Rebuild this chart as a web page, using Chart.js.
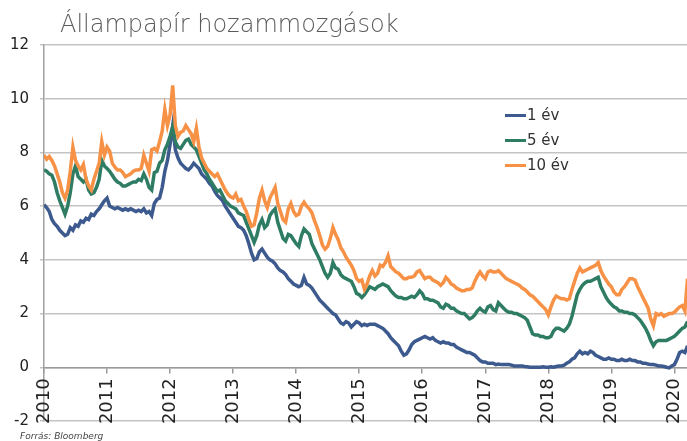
<!DOCTYPE html>
<html>
<head>
<meta charset="utf-8">
<title>Állampapír hozammozgások</title>
<script src="https://cdn.jsdelivr.net/npm/chart.js@4.4.1/dist/chart.umd.min.js"></script>
<style>
    body { margin: 0; background: #fff; }
    .chart-container { position: relative; width: 687px; height: 441px; }
    .title {
        position: absolute; left: 60px; top: 12px;
        font: 300 24px/24px "DejaVu Sans", sans-serif; color: #5a5a5c; white-space: nowrap;
    }
    .legend { position: absolute; left: 505px; top: 103px; font: 15px/25px "DejaVu Sans", sans-serif; color: #333; }
    .legend div { display: flex; align-items: center; height: 25px; }
    .legend span.swatch { display: inline-block; width: 21px; height: 3px; margin-right: 1px; }
    .source {
        position: absolute; left: 20px; top: 430px;
        font: italic 9px/12px "DejaVu Sans", sans-serif; color: #444;
    }
</style>
</head>
<body>
<div class="chart-container">
    <canvas id="yieldChart"></canvas>
    <div class="title">Állampapír hozammozgások</div>
    <div class="legend" id="legend"></div>
    <div class="source">Forrás: Bloomberg</div>
</div>
<script>
// year ticks on the x axis, data is sampled twice a month from Jan 2010
const years = [2010, 2011, 2012, 2013, 2014, 2015, 2016, 2017, 2018, 2019, 2020];
const perYear = 24;
const seriesNames = ['1 év', '5 év', '10 év'];
const yTicks = [-2, 0, 2, 4, 6, 8, 10, 12];

const yield1y = [
    6.05,5.95,5.8,5.5,5.35,5.25,5.1,5.0,4.9,4.95,5.2,5.1,5.3,5.25,5.45,5.4,5.55,5.5,5.7,5.65,5.8,5.9,6.05,6.2,
    6.3,6.0,5.95,5.9,5.95,5.9,5.85,5.9,5.85,5.9,5.85,5.8,5.85,5.8,5.9,5.75,5.8,5.65,6.1,6.25,6.3,6.7,7.3,7.7,
    8.3,9.0,8.1,7.8,7.6,7.5,7.4,7.35,7.45,7.6,7.5,7.4,7.2,7.1,7.0,6.85,6.75,6.55,6.4,6.3,6.2,6.0,5.85,5.7,
    5.55,5.4,5.25,5.2,5.1,4.9,4.6,4.25,4.0,4.05,4.3,4.4,4.25,4.1,4.0,3.95,3.85,3.7,3.6,3.55,3.45,3.3,3.2,3.1,
    3.05,3.0,3.05,3.35,3.1,3.05,2.95,2.8,2.65,2.5,2.4,2.3,2.2,2.1,2.0,1.95,1.8,1.65,1.6,1.7,1.65,1.5,1.6,1.7,
    1.65,1.55,1.6,1.55,1.6,1.6,1.6,1.55,1.5,1.45,1.35,1.25,1.1,1.0,0.9,0.8,0.6,0.45,0.5,0.65,0.85,0.95,1.0,1.05,
    1.1,1.15,1.1,1.05,1.1,1.0,0.95,0.9,0.95,0.9,0.9,0.85,0.85,0.75,0.7,0.65,0.6,0.55,0.55,0.5,0.45,0.35,0.25,0.2,
    0.2,0.15,0.15,0.15,0.1,0.12,0.1,0.1,0.1,0.1,0.08,0.05,0.05,0.05,0.05,0.03,0.02,0,0,0,0,0,0.02,0,
    0,0.02,0,0.03,0.05,0.05,0.08,0.15,0.2,0.3,0.35,0.5,0.6,0.5,0.55,0.5,0.6,0.55,0.45,0.4,0.35,0.3,0.3,0.35,
    0.3,0.3,0.25,0.25,0.3,0.25,0.25,0.3,0.25,0.25,0.2,0.2,0.15,0.15,0.12,0.1,0.1,0.08,0.05,0.05,0.03,0,-0.02,0.05,
    0.1,0.3,0.55,0.6,0.55,0.8
];

const yield5y = [
    7.35,7.3,7.2,7.15,6.9,6.5,6.2,5.95,5.7,6.0,6.5,7.2,7.5,7.1,7.0,6.9,7.0,6.6,6.45,6.5,6.7,7.0,7.7,7.5,
    7.4,7.3,7.15,7.0,6.9,6.85,6.75,6.75,6.8,6.85,6.9,6.9,7.0,6.95,7.2,7.0,6.7,6.6,7.25,7.3,7.6,7.7,8.1,8.3,
    8.6,8.95,8.4,8.2,8.15,8.3,8.45,8.5,8.3,8.2,8.1,7.85,7.6,7.35,7.2,7.0,6.85,6.7,6.55,6.6,6.4,6.2,6.1,6.0,
    5.95,5.9,5.75,5.7,5.65,5.4,5.15,4.9,4.65,4.9,5.3,5.5,5.2,5.3,5.65,5.8,5.9,5.4,5.1,4.8,4.7,4.95,4.9,4.75,
    4.6,4.5,4.9,5.15,5.05,4.95,4.6,4.4,4.2,4.0,3.75,3.5,3.35,3.5,3.9,3.7,3.65,3.45,3.35,3.3,3.25,3.2,3.0,2.75,
    2.7,2.6,2.7,2.85,3.0,2.95,2.9,3.0,3.05,3.1,3.05,3.0,2.85,2.75,2.65,2.6,2.6,2.55,2.55,2.6,2.65,2.6,2.7,2.85,
    2.75,2.55,2.55,2.5,2.5,2.45,2.4,2.25,2.2,2.35,2.3,2.2,2.2,2.1,2.05,2.0,2.0,1.9,1.8,1.85,1.95,2.1,2.2,2.1,
    2.05,2.25,2.3,2.15,2.1,2.4,2.3,2.2,2.1,2.05,2.05,2.0,2.0,1.95,1.9,1.85,1.75,1.5,1.25,1.2,1.2,1.15,1.15,1.1,
    1.1,1.15,1.35,1.45,1.45,1.4,1.35,1.45,1.6,1.9,2.3,2.7,2.9,3.05,3.15,3.2,3.2,3.25,3.3,3.35,3.0,2.8,2.6,2.45,
    2.35,2.25,2.2,2.1,2.1,2.05,2.05,2.0,2.0,1.95,1.85,1.75,1.6,1.45,1.25,1.0,0.8,0.95,1.0,1.0,1.0,1.0,1.05,1.1,
    1.15,1.25,1.35,1.45,1.5,1.7
];

const yield10y = [
    7.9,7.75,7.85,7.7,7.5,7.2,6.9,6.5,6.3,6.6,7.3,8.2,7.7,7.5,7.35,7.55,7.0,6.75,6.6,7.0,7.3,7.6,8.4,7.9,
    8.2,8.05,7.6,7.45,7.35,7.35,7.25,7.1,7.15,7.2,7.3,7.35,7.35,7.4,7.9,7.6,7.3,8.1,8.15,8.05,8.4,8.8,9.6,9.0,
    9.4,10.5,9.0,8.6,8.75,8.8,9.0,8.85,8.7,8.4,8.9,8.2,7.8,7.6,7.4,7.3,7.2,7.1,7.2,7.0,6.8,6.6,6.45,6.35,
    6.3,6.45,6.2,6.25,6.0,5.8,5.5,5.25,5.3,5.75,6.3,6.6,6.2,5.95,6.3,6.5,6.7,6.1,5.8,5.5,5.4,5.9,6.1,5.8,
    5.65,5.7,6.0,6.15,6.0,5.9,5.75,5.45,5.2,4.9,4.55,4.4,4.5,4.8,5.2,4.95,4.75,4.45,4.3,4.1,3.95,3.8,3.6,3.3,
    3.2,3.25,2.9,3.1,3.4,3.6,3.4,3.5,3.8,3.75,3.9,4.15,3.75,3.65,3.55,3.5,3.4,3.3,3.3,3.35,3.35,3.4,3.55,3.6,
    3.45,3.3,3.35,3.35,3.25,3.2,3.15,3.05,3.15,3.35,3.25,3.1,3.05,2.95,2.9,2.85,2.85,2.9,2.9,2.95,3.2,3.4,3.55,3.4,
    3.3,3.55,3.6,3.55,3.55,3.6,3.5,3.4,3.3,3.25,3.2,3.15,3.1,3.05,2.95,2.9,2.8,2.7,2.65,2.55,2.45,2.35,2.25,2.15,
    1.95,2.25,2.5,2.65,2.6,2.55,2.55,2.5,2.55,2.9,3.2,3.5,3.7,3.55,3.6,3.65,3.7,3.75,3.8,3.9,3.6,3.4,3.25,3.1,
    3.0,2.8,2.7,2.7,2.9,3.0,3.15,3.3,3.3,3.25,3.0,2.8,2.6,2.4,2.2,1.8,1.55,2.0,1.95,2.0,1.9,1.95,2.0,2.0,
    2.05,2.15,2.25,2.3,2.1,3.3
];

const colors = ['#3d5a8f', '#2e7c63', '#f79145'];

function toPoints(values) {
    return values.map(function(v, i) {
        return { x: years[0] + i / perYear, y: v };
    });
}

document.getElementById('legend').innerHTML = seriesNames.map(function(name, i) {
    return '<div><span class="swatch" style="background:' + colors[i] + '"></span>' + name + '</div>';
}).join('');

// year labels hang under the zero line, rotated to read bottom-up
const yearLabels = {
    id: 'yearLabels',
    afterDraw: function(chart) {
        const c = chart.ctx;
        const xs = chart.scales.x;
        const y0 = chart.scales.y.getPixelForValue(0) + 11;
        c.save();
        c.font = '18px "DejaVu Sans"';
        c.fillStyle = '#222';
        c.textAlign = 'right';
        c.textBaseline = 'middle';
        years.forEach(function(yr) {
            c.save();
            c.translate(xs.getPixelForValue(yr), y0);
            c.rotate(-Math.PI / 2);
            c.fillText(String(yr), 0, 0);
            c.restore();
        });
        c.restore();
    }
};

new Chart(document.getElementById('yieldChart'), {
    type: 'line',
    data: {
        datasets: [
            { label: seriesNames[0], data: toPoints(yield1y), borderColor: colors[0], order: 2 },
            { label: seriesNames[1], data: toPoints(yield5y), borderColor: colors[1], order: 1 },
            { label: seriesNames[2], data: toPoints(yield10y), borderColor: colors[2], order: 0 }
        ]
    },
    options: {
        responsive: true,
        maintainAspectRatio: false,
        animation: false,
        layout: { padding: { top: 45, bottom: 16, left: 0, right: 0 } },
        elements: {
            point: { radius: 0 },
            line: { borderWidth: 3.5, tension: 0 }
        },
        plugins: {
            legend: { display: false },
            tooltip: { enabled: false }
        },
        scales: {
            x: {
                type: 'linear',
                position: { y: 0 },
                min: 2010,
                max: 2020.2,
                afterBuildTicks: function(scale) {
                    scale.ticks = years.map(function(v) { return { value: v }; });
                },
                ticks: { display: false },
                grid: { drawOnChartArea: false, drawTicks: true, tickLength: 5, color: '#999', lineWidth: 1.5 },
                border: { color: '#999', width: 1.5 }
            },
            y: {
                min: -2,
                max: 12,
                afterFit: function(scale) { scale.width = 44; },
                afterBuildTicks: function(scale) {
                    scale.ticks = yTicks.map(function(v) { return { value: v }; });
                },
                ticks: {
                    padding: 11,
                    color: '#222',
                    font: { family: 'DejaVu Sans', size: 15 }
                },
                grid: { color: '#c4c4c4', lineWidth: 1.5, tickLength: 4 },
                border: { color: '#a0a0a0', width: 1.5 }
            }
        }
    },
    plugins: [yearLabels]
});
</script>
</body>
</html>
